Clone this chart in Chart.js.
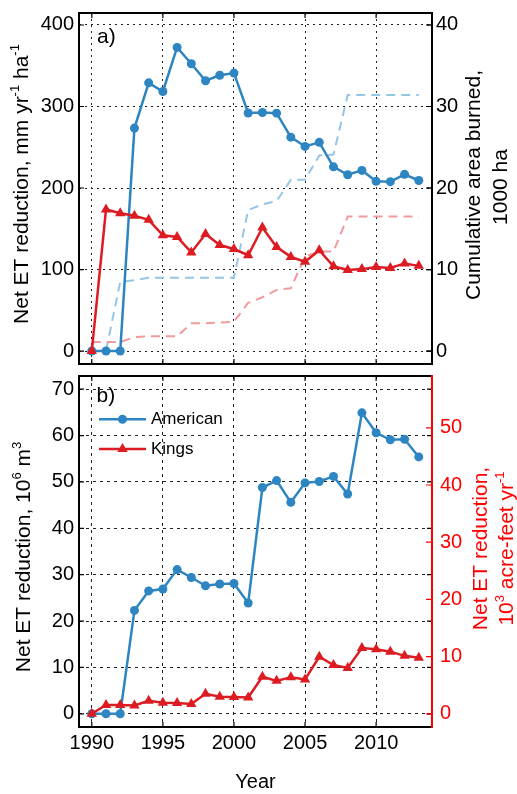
<!DOCTYPE html>
<html>
<head>
<meta charset="utf-8">
<script src="https://cdn.jsdelivr.net/npm/chart.js@4.4.0/dist/chart.umd.min.js"></script>
<style>
body { margin: 0; background: #fff; }
#wrap { position: relative; width: 517px; height: 794px; }
canvas { position: absolute; left: 0; }
#topChart { top: 0; }
#botChart { top: 370px; }
</style>
</head>
<body>
<div id="wrap">
    <canvas id="topChart" width="517" height="370"></canvas>
    <canvas id="botChart" width="517" height="424"></canvas>
</div>
<script>
// yearly series 1990-2013
var years = [1990, 1991, 1992, 1993, 1994, 1995, 1996, 1997, 1998, 1999, 2000, 2001,
             2002, 2003, 2004, 2005, 2006, 2007, 2008, 2009, 2010, 2011, 2012, 2013];

// net ET reduction per area, mm yr-1 ha-1
var americanEt = [0, 0, 0, 273.5, 329, 318.4, 372.5, 352.5, 331.6, 338.3, 341, 292,
                  292.7, 291.8, 262.4, 251, 256, 226, 216.3, 221.6, 208.2, 207.8, 216.8, 209.2];
var kingsEt = [0, 173.7, 169, 166, 161, 142, 140, 121, 143.5, 130, 125.2, 117.5,
               151.5, 127.5, 115.5, 109.5, 123.7, 104, 99.5, 100.5, 103, 102, 107.5, 104.5];

// cumulative area burned, 1000 ha
var americanArea = [0, 0, 8.5, 8.7, 9.0, 9.0, 9.0, 9.0, 9.0, 9.0, 9.0, 17.3,
                    18.0, 18.4, 21.0, 21.0, 24.0, 24.1, 31.4, 31.4, 31.4, 31.4, 31.4, 31.4];
var kingsArea = [1.1, 1.1, 1.1, 1.7, 1.8, 1.8, 1.8, 3.4, 3.4, 3.5, 3.6, 5.9,
                 6.6, 7.5, 7.7, 11.6, 12.2, 12.2, 16.5, 16.5, 16.5, 16.5, 16.5, 16.5];

// net ET reduction volume, 10^6 m3
var americanVol = [0, 0, 0, 22.3, 26.5, 26.9, 31.1, 29.4, 27.6, 28.0, 28.1, 23.9,
                   48.8, 50.3, 45.6, 49.8, 50.1, 51.2, 47.4, 64.9, 60.6, 59.1, 59.2, 55.4];
var kingsVol = [0, 1.9, 1.9, 1.8, 2.8, 2.4, 2.3, 2.1, 4.3, 3.7, 3.6, 3.5,
                8.0, 7.1, 7.9, 7.4, 12.3, 10.5, 9.9, 14.2, 13.9, 13.4, 12.5, 12.1];

var yearTicks = [1990, 1995, 2000, 2005, 2010];
var etTicks = [0, 100, 200, 300, 400];
var areaTicks = [0, 10, 20, 30, 40];
var volTicks = [0, 10, 20, 30, 40, 50, 60, 70];
var acreFtTicks = [0, 10, 20, 30, 40, 50];

var M3_PER_ACRE_FT = 1.2335; // 10^6 m3 in 10^3 acre-feet

var BLUE = '#2d85c2', RED = '#dc1c22', LIGHT_BLUE = '#95c6e5', LIGHT_RED = '#f09a9b';
var FONT = '"Liberation Sans", Arial, sans-serif';

Chart.defaults.font.family = FONT;
Chart.defaults.color = '#000';

function pts(vals) {
    return years.map(function (yr, i) { return { x: yr, y: vals[i] }; });
}

function fixedTicks(list) {
    return function (scale) {
        scale.ticks = list.map(function (v) { return { value: v }; });
    };
}

// fixed box size, no extra room asked for the edge labels
function fitTo(w, h) {
    return function (s) {
        if (w !== null) s.width = w;
        if (h !== null) s.height = h;
        s.paddingTop = 0;
        s.paddingBottom = 0;
        s.paddingLeft = 0;
        s.paddingRight = 0;
    };
}

function plain(v) { return String(v); }

// rotated title made of normal and superscript runs
function drawRich(ctx, runs, cx, cy, size, color) {
    var sup = Math.round(size * 0.62);
    var w = 0;
    runs.forEach(function (r) {
        ctx.font = (r.sup ? sup : size) + 'px ' + FONT;
        w += ctx.measureText(r.t).width;
    });
    ctx.save();
    ctx.translate(cx, cy);
    ctx.rotate(-Math.PI / 2);
    ctx.fillStyle = color;
    ctx.textAlign = 'left';
    ctx.textBaseline = 'alphabetic';
    var x = -w / 2;
    runs.forEach(function (r) {
        ctx.font = (r.sup ? sup : size) + 'px ' + FONT;
        ctx.fillText(r.t, x, r.sup ? -size * 0.42 : 0);
        x += ctx.measureText(r.t).width;
    });
    ctx.restore();
}

// frame, inward ticks, panel letter, axis titles and legend
var panelPlugin = {
    id: 'panel',
    afterDraw: function (chart, args, opts) {
        var ctx = chart.ctx, a = chart.chartArea;
        var sx = chart.scales.x, sy = chart.scales.y, sy2 = chart.scales.y2;
        ctx.save();
        ctx.lineWidth = 1.2;
        ctx.strokeStyle = '#000';
        ctx.beginPath();
        sx.ticks.forEach(function (t) {
            var p = sx.getPixelForValue(t.value);
            ctx.moveTo(p, a.bottom); ctx.lineTo(p, a.bottom - 5);
            ctx.moveTo(p, a.top); ctx.lineTo(p, a.top + 5);
        });
        sy.ticks.forEach(function (t) {
            var p = sy.getPixelForValue(t.value);
            ctx.moveTo(a.left, p); ctx.lineTo(a.left + 5, p);
            ctx.moveTo(a.right, p); ctx.lineTo(a.right - 5, p);
        });
        ctx.stroke();
        ctx.strokeStyle = opts.rightColor;
        ctx.beginPath();
        sy2.ticks.forEach(function (t) {
            var p = sy2.getPixelForValue(t.value);
            ctx.moveTo(a.right, p); ctx.lineTo(a.right - 6, p);
        });
        ctx.stroke();

        ctx.lineWidth = 2;
        ctx.strokeStyle = '#000';
        ctx.strokeRect(a.left, a.top, a.right - a.left, a.bottom - a.top);
        ctx.strokeStyle = opts.rightColor;
        ctx.beginPath();
        ctx.moveTo(a.right, a.top - 1);
        ctx.lineTo(a.right, a.bottom + 1);
        ctx.stroke();

        ctx.fillStyle = '#000';
        ctx.font = '21px ' + FONT;
        ctx.textAlign = 'left';
        ctx.textBaseline = 'middle';
        ctx.fillText(opts.letter[0], opts.letter[1], opts.letter[2]);

        opts.titles.forEach(function (t) {
            drawRich(ctx, t.runs, t.x, t.y, 21, t.color || '#000');
        });

        if (opts.legend) {
            opts.legend.forEach(function (item) {
                var ds = chart.data.datasets[item.index];
                ctx.strokeStyle = ds.borderColor;
                ctx.fillStyle = ds.pointBackgroundColor;
                ctx.lineWidth = ds.borderWidth;
                ctx.beginPath();
                ctx.moveTo(99, item.y);
                ctx.lineTo(146, item.y);
                ctx.stroke();
                Chart.helpers.drawPoint(ctx, {
                    pointStyle: ds.pointStyle, radius: ds.pointRadius, rotation: 0, borderWidth: 0
                }, 122.5, item.y);
                ctx.fillStyle = '#000';
                ctx.font = '17px ' + FONT;
                ctx.fillText(ds.label, 151, item.y);
            });
        }
        ctx.restore();
    }
};

function solid(label, vals, color, style, radius, order) {
    return {
        label: label, data: pts(vals), yAxisID: 'y', order: order,
        borderColor: color, borderWidth: 2.5, pointStyle: style, pointRadius: radius,
        pointBackgroundColor: color, pointBorderWidth: 0, pointBorderColor: color
    };
}

function dashed(label, vals, color, order) {
    return {
        label: label, data: pts(vals), yAxisID: 'y2', order: order,
        borderColor: color, borderWidth: 2, borderDash: [9, 6], pointRadius: 0
    };
}

function tickFont() { return { size: 20 }; }

// a) per-area reduction with cumulative burned area
new Chart(document.getElementById('topChart'), {
    type: 'line',
    data: {
        datasets: [
            solid('American', americanEt, BLUE, 'circle', 4.5, 1),
            solid('Kings', kingsEt, RED, 'triangle', 6, 0),
            dashed('American area', americanArea, LIGHT_BLUE, 3),
            dashed('Kings area', kingsArea, LIGHT_RED, 2)
        ]
    },
    options: {
        responsive: false,
        animation: false,
        layout: { padding: { top: 13, bottom: 5, left: 0, right: 0 } },
        plugins: {
            legend: { display: false },
            tooltip: { enabled: false },
            panel: {
                rightColor: '#000',
                letter: ['a)', 97, 37],
                titles: [
                    { x: 27.5, y: 184, runs: [{ t: 'Net ET reduction, mm yr' }, { t: '-1', sup: 1 }, { t: ' ha' }, { t: '-1', sup: 1 }] },
                    { x: 480, y: 185, runs: [{ t: 'Cumulative area burned,' }] },
                    { x: 507, y: 187, runs: [{ t: '1000 ha' }] }
                ]
            }
        },
        scales: {
            x: {
                type: 'linear', min: 1989.1, max: 2013.93,
                afterBuildTicks: fixedTicks(yearTicks),
                afterFit: fitTo(null, 0),
                ticks: { display: false },
                grid: { color: '#222', lineWidth: 1, drawTicks: false },
                border: { display: false, dash: [2, 4] }
            },
            y: {
                position: 'left', min: -15.9, max: 414.7,
                afterBuildTicks: fixedTicks(etTicks),
                afterFit: fitTo(79, null),
                ticks: { font: tickFont(), padding: 5, callback: plain },
                grid: { color: '#222', lineWidth: 1, drawTicks: false },
                border: { display: false, dash: [2, 4] }
            },
            y2: {
                position: 'right', min: -1.59, max: 41.47,
                afterBuildTicks: fixedTicks(areaTicks),
                afterFit: fitTo(85, null),
                ticks: { font: tickFont(), padding: 4, callback: plain },
                grid: { display: false, drawTicks: false },
                border: { display: false }
            }
        }
    },
    plugins: [panelPlugin]
});

// b) total reduction volume, right axis in acre-feet
new Chart(document.getElementById('botChart'), {
    type: 'line',
    data: {
        datasets: [
            solid('American', americanVol, BLUE, 'circle', 4.5, 1),
            solid('Kings', kingsVol, RED, 'triangle', 6, 0)
        ]
    },
    options: {
        responsive: false,
        animation: false,
        layout: { padding: { top: 4, bottom: 0, left: 0, right: 0 } },
        plugins: {
            legend: { display: false },
            tooltip: { enabled: false },
            panel: {
                rightColor: '#ff0000',
                letter: ['b)', 96.5, 26.5],
                legend: [{ index: 0, y: 49.3 }, { index: 1, y: 79 }],
                titles: [
                    { x: 30, y: 187, runs: [{ t: 'Net ET reduction, 10' }, { t: '6', sup: 1 }, { t: ' m' }, { t: '3', sup: 1 }] },
                    { x: 487, y: 178.5, color: '#ff0000', runs: [{ t: 'Net ET reduction,' }] },
                    { x: 513, y: 178.5, color: '#ff0000', runs: [{ t: '10' }, { t: '3', sup: 1 }, { t: ' acre-feet yr' }, { t: '-1', sup: 1 }] }
                ]
            }
        },
        scales: {
            x: {
                type: 'linear', min: 1989.1, max: 2013.93,
                afterBuildTicks: fixedTicks(yearTicks),
                afterFit: fitTo(null, 67),
                ticks: { font: tickFont(), padding: 4, maxRotation: 0, callback: plain },
                title: { display: true, text: 'Year', font: { size: 20 }, padding: 0 },
                grid: { color: '#222', lineWidth: 1, drawTicks: false },
                border: { display: false, dash: [3, 4] }
            },
            y: {
                position: 'left', min: -2.85, max: 72.85,
                afterBuildTicks: fixedTicks(volTicks),
                afterFit: fitTo(79, null),
                ticks: { font: tickFont(), padding: 5, callback: plain },
                grid: { color: '#222', lineWidth: 1, drawTicks: false },
                border: { display: false, dash: [3, 4] }
            },
            y2: {
                position: 'right', min: -2.85 / M3_PER_ACRE_FT, max: 72.85 / M3_PER_ACRE_FT,
                afterBuildTicks: fixedTicks(acreFtTicks),
                afterFit: fitTo(85, null),
                ticks: { font: tickFont(), padding: 8, color: '#ff0000', callback: plain },
                grid: { display: false, drawTicks: false },
                border: { display: false }
            }
        }
    },
    plugins: [panelPlugin]
});
</script>
</body>
</html>
